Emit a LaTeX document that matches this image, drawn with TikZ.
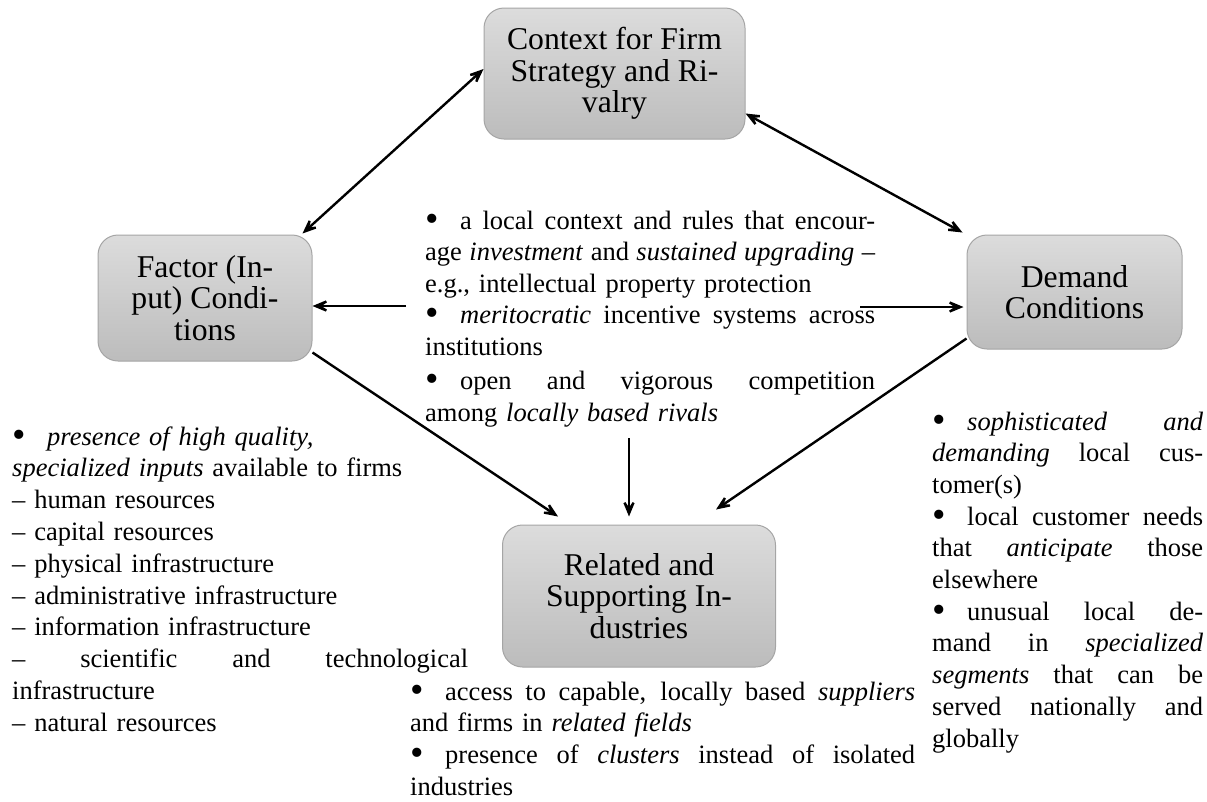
\documentclass[tikz,border=0pt]{standalone}
\usepackage{graphicx}
\usepackage{fontspec}
\setmainfont{Liberation Serif}
\usetikzlibrary{arrows.meta}
\definecolor{boxtop}{RGB}{220,220,220}
\definecolor{boxbot}{RGB}{188,188,188}
\definecolor{boxline}{RGB}{165,165,165}
\newcommand{\bul}{\makebox[35pt][l]{\raisebox{-0.09em}{\scalebox{1.45}{\textbullet}}}}
\newcommand{\jl}[1]{\leavevmode\hbox to \bw{\spaceskip=0.25em plus 1fil\relax #1}}
\begin{document}
\begin{tikzpicture}[x=1pt,y=-1pt,
  fbox/.style={draw=boxline, line width=1pt, rounded corners=20pt, top color=boxtop, bottom color=boxbot, align=center, font=\fontsize{31.7}{31.5}\selectfont, inner sep=0pt},
  body/.style={anchor=base west, align=left, inner sep=0pt, font=\fontsize{26.5}{31.7}\selectfont},
  tip/.tip={Stealth[length=24pt,width=20pt,inset=15pt]},
  conn/.style={line width=2.4pt, -tip},
  dconn/.style={line width=2.4pt, tip-tip}
]
\useasboundingbox (0,0) rectangle (1207,801);

\node[fbox, minimum width=261pt, minimum height=131pt] (ctx) at (614.5,73.5) {Context for Firm\\Strategy and Ri-\\valry};
\node[fbox, minimum width=214pt, minimum height=126pt] (fac) at (205,298) {Factor (In-\\put) Condi-\\tions};
\node[fbox, minimum width=215pt, minimum height=114pt] (dem) at (1074.5,292) {Demand\\Conditions};
\node[fbox, minimum width=273pt, minimum height=142pt] (rel) at (639,596) {Related and\\Supporting In-\\dustries};

\node[body, text width=450pt, font=\fontsize{26.5}{31.5}\selectfont] (cen) at (425,229) {\def\bw{450pt}%
\jl{\bul a local context and rules that encour-}\\
\jl{age \textit{investment} and \textit{sustained upgrading} –}\\
e.g., intellectual property protection\\
\jl{\bul\textit{meritocratic} incentive systems across}\\
institutions\\[3pt]
\jl{\bul open and vigorous competition}\\
among \textit{locally based rivals}};

\node[body, text width=456pt, font=\fontsize{26.5}{31.8}\selectfont] (lft) at (12,445) {\def\bw{456pt}%
\bul\textit{presence of high quality,}\\
\textit{specialized inputs} available to firms\\
– human resources\\
– capital resources\\
– physical infrastructure\\
– administrative infrastructure\\
– information infrastructure\\
\jl{– scientific and technological}\\
infrastructure\\
– natural resources};

\node[body, text width=271pt] (rgt) at (932,430) {\def\bw{271pt}%
\jl{\bul\textit{sophisticated and}}\\
\jl{\textit{demanding} local cus-}\\
tomer(s)\\
\jl{\bul local customer needs}\\
\jl{that \textit{anticipate} those}\\
elsewhere\\
\jl{\bul unusual local de-}\\
\jl{mand in \textit{specialized}}\\
\jl{\textit{segments} that can be}\\
\jl{served nationally and}\\
globally};

\node[body, text width=505pt] (bot) at (410,700) {\def\bw{505pt}%
\jl{\bul access to capable, locally based \textit{suppliers}}\\
and firms in \textit{related fields}\\
\jl{\bul presence of \textit{clusters} instead of isolated}\\
industries};

\coordinate (ls) at (406,306);
\coordinate (rs) at (860,307);
\coordinate (cs) at (629,438);

\draw[dconn] ([yshift=4.5pt]ctx.west) -- ([xshift=-10pt,yshift=1pt]fac.north east);
\draw[dconn] ([yshift=26pt]ctx.south east) -- ([xshift=-4pt,yshift=2pt]dem.north west);
\draw[conn] (ls) -- ([yshift=-8pt]fac.east);
\draw[conn] (rs) -- ([xshift=-3pt,yshift=-15pt]dem.west);
\draw[conn] ([yshift=9pt]fac.south east) -- ([xshift=-81pt,yshift=8pt]rel.north);
\draw[conn] (cs) -- ([xshift=-10pt,yshift=8pt]rel.north);
\draw[conn] ([yshift=11pt]dem.south west) -- ([xshift=77pt,yshift=15pt]rel.north);
\end{tikzpicture}
\end{document}
